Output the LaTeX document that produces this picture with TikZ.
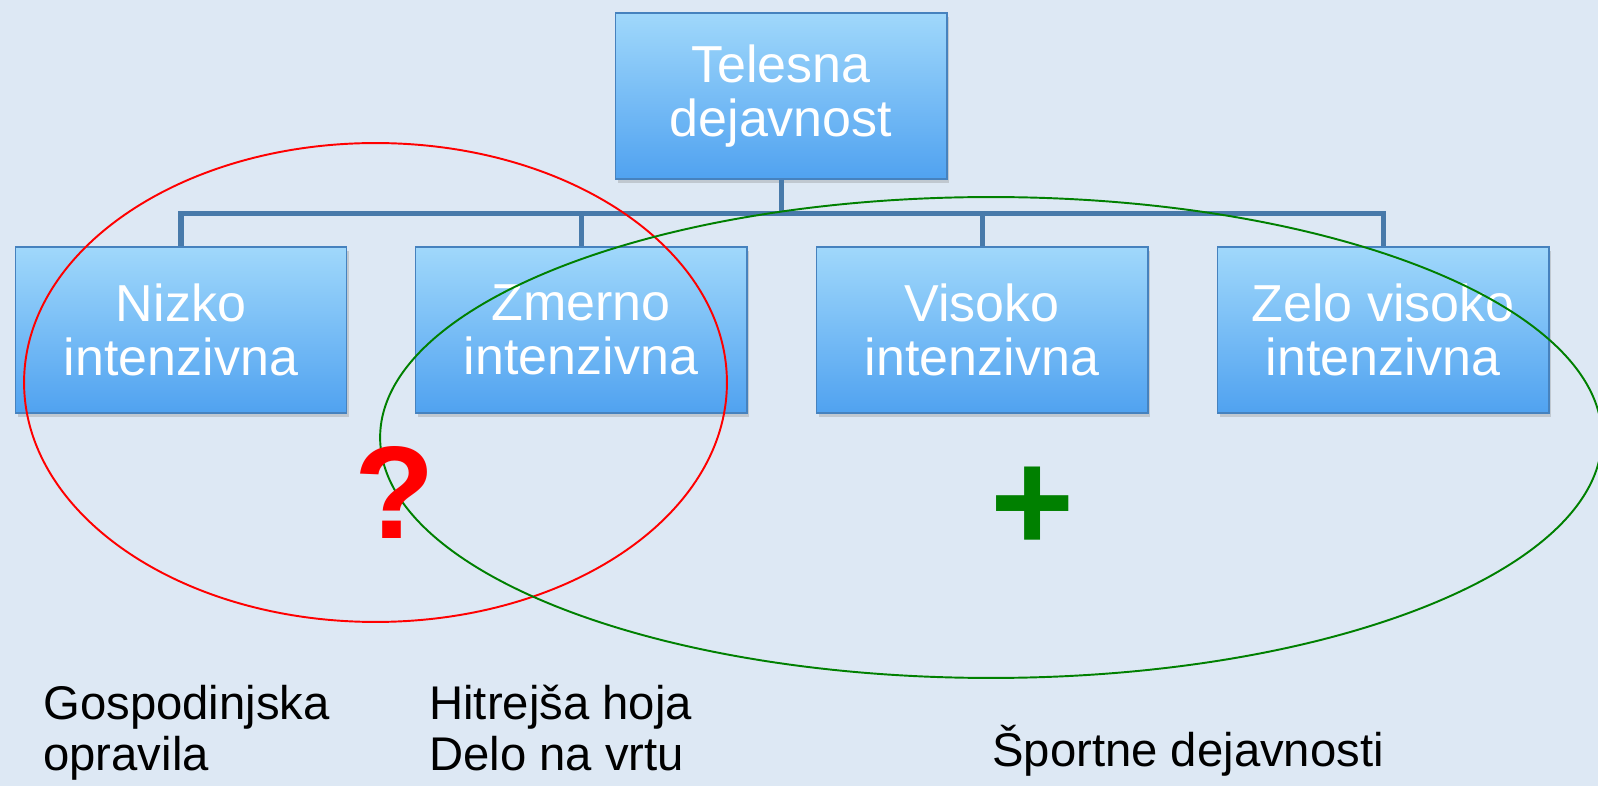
\documentclass[tikz,border=0pt]{standalone}
\usepackage{fontspec}
\setmainfont{Liberation Sans}
\usetikzlibrary{positioning,shadows}
\definecolor{pagebg}{RGB}{221,232,244}
\definecolor{boxtop}{RGB}{160,216,251}
\definecolor{boxbot}{RGB}{80,162,240}
\definecolor{boxedge}{RGB}{70,130,190}
\definecolor{linkblue}{RGB}{72,122,170}
\definecolor{plusgreen}{RGB}{0,128,0}
\tikzset{levelbox/.style={draw=boxedge,line width=0.6pt,top color=boxtop,bottom color=boxbot,
    minimum width=6.64cm,minimum height=3.32cm,inner sep=0pt,text=white,align=center,
    font=\fontsize{29.6}{30.7}\selectfont,
    drop shadow={opacity=0.3,shadow xshift=0.05cm,shadow yshift=-0.08cm}},
  link/.style={draw=linkblue,line width=2.85pt},
  activity/.style={anchor=base west,align=left,inner sep=0pt,font=\fontsize{26.9}{28.5}\selectfont}}

\begin{document}
\begin{tikzpicture}[x=0.02cm,y=-0.02cm]
  \fill[pagebg] (0,0) rectangle (1598,786);
  \useasboundingbox (0,0) rectangle (1598,786);

  % tree
  \node[levelbox] (telesna) at (781,96) {Telesna\\dejavnost};
  \node[levelbox] (nizko) at (181,330) {Nizko\\intenzivna};
  \node[levelbox] (zmerno) at (581,330) {Zmerno\\intenzivna};
  \node[levelbox] (visoko) at (982,330) {Visoko\\intenzivna};
  \node[levelbox] (zelo) at (1383,330) {Zelo visoko\\intenzivna};

  \coordinate (bus) at (781,214);
  \draw[link] (telesna.south) -- (bus);
  \foreach \n in {nizko,zmerno,visoko,zelo}
    \draw[link] (\n.north) |- (bus);

  % groups
  \draw[red,line width=1.1pt] (375.5,382.5) ellipse [x radius=7.03cm,y radius=4.79cm];
  \draw[plusgreen,line width=1.1pt] (991,437.5) ellipse [x radius=12.22cm,y radius=4.81cm];

  \node[text=red,font=\fontsize{75}{75}\selectfont\bfseries] (dvom) at (395,492) {?};
  \node[text=plusgreen,font=\fontsize{82}{82}\selectfont\bfseries] (plus) at (1033,509) {+};

  % examples (base = last line)
  \node[activity] (gosp) at (43,770) {Gospodinjska\\opravila};
  \node[activity] (hoja) at (429,770) {Hitrejša hoja\\Delo na vrtu};
  \node[activity] (sport) at (992,766) {Športne dejavnosti};
\end{tikzpicture}
\end{document}
